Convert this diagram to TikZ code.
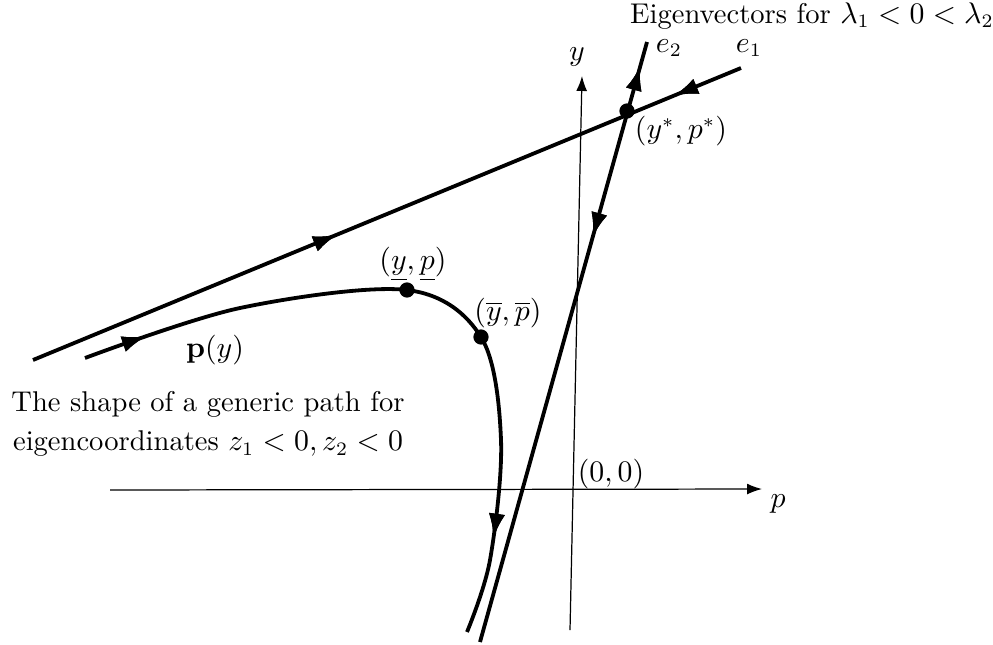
\documentclass[tikz,border=0pt]{standalone}
\usetikzlibrary{arrows.meta,decorations.markings}
\begin{document}
\begin{tikzpicture}[x=0.3676pt,y=-0.3676pt,
  every node/.style={font=\fontsize{10.5}{12.6}\selectfont},
  thick line/.style={line width=1.4pt},
  axis/.style={line width=0.45pt,-{Latex[length=5.5pt,width=4pt]}},
  dot/.style={circle,fill=black,inner sep=0pt,minimum size=5.6pt},
  lbl/.style={inner sep=0.5pt},
  fwd/.style={postaction={decorate},decoration={markings,mark=at position #1 with {\arrow{Latex[length=9pt,width=6pt]}}}},
  bwd/.style={postaction={decorate},decoration={markings,mark=at position #1 with {\arrowreversed{Latex[length=9pt,width=6pt]}}}}]
\useasboundingbox (0,0) rectangle (993,644);
% axes
\coordinate (pl) at (110,490);
\coordinate (pr) at (762,489);
\coordinate (yb) at (570,630);
\coordinate (yt) at (582,76);
\draw[axis] (pl) -- (pr);
\draw[axis] (yb) -- (yt);
\node[lbl] (plab) at (778,504) {$p$};
\node[lbl] (ylab) at (577,57) {$y$};
\node[lbl] (orig) at (611,474) {$(0,0)$};
% eigenvector lines
\coordinate (e1a) at (33,360);
\coordinate (e1b) at (741,68);
\coordinate (e2a) at (480,642);
\coordinate (e2b) at (647,42);
\draw[thick line,fwd=0.43,bwd=0.905] (e1a) -- (e1b);
\draw[thick line,bwd=0.675,fwd=0.96] (e2a) -- (e2b);
\node[dot] (fp) at (627,111) {};
\node[lbl] (fplab) at (681,131) {$(y^{*},p^{*})$};
\node[lbl] (e2lab) at (669,48) {$e_2$};
\node[lbl] (e1lab) at (749,48) {$e_1$};
\node[lbl] (title) at (812,16) {Eigenvectors for $\lambda_1<0<\lambda_2$};
% path p(y)
\draw[thick line,fwd=0.09,fwd=0.865] plot[smooth,tension=0.55] coordinates {(85,358) (240,308) (407,290) (481,337) (501,440) (490,560) (467,632)};
\node[dot] (lowpt) at (407,290) {};
\node[dot] (uppt) at (481,337) {};
\node[lbl] (lowlab) at (413,264) {$(\underline{y},\underline{p})$};
\node[lbl] (uplab) at (508,313) {$(\overline{y},\overline{p})$};
\node[lbl] (plab2) at (215,350) {$\mathbf{p}(y)$};
\node[lbl,align=center] (cap) at (208,424) {The shape of a generic path for\\[2pt] eigencoordinates $z_1<0,z_2<0$};
\end{tikzpicture}
\end{document}
